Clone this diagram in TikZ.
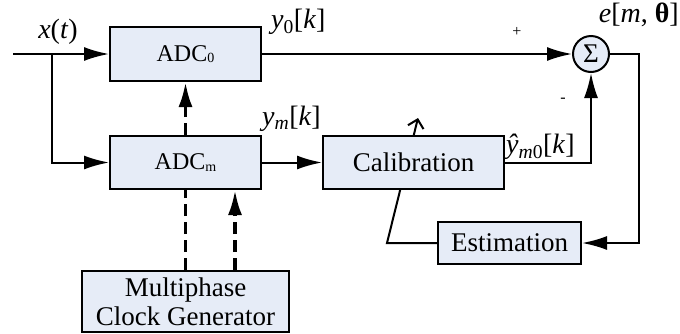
\documentclass[tikz,border=0pt]{standalone}
\usepackage{fontspec}
\setmainfont{Liberation Serif}
\usetikzlibrary{arrows.meta}
\definecolor{boxfill}{RGB}{230,236,247}
\begin{document}
\begin{tikzpicture}[x=1pt,y=-1pt,>={Latex[length=25pt,width=14pt]},
		block/.style={draw,rectangle,fill=boxfill,line width=2pt,inner sep=0pt,font=\fontsize{27}{32}\selectfont},
		adc/.style={block,minimum width=151pt,font=\fontsize{24}{28}\selectfont},
		lbl/.style={inner sep=1pt,font=\fontsize{28}{30}\selectfont},
		sig/.style={line width=2pt},
		clkline/.style={line width=3.5pt,dash pattern=on 12pt off 6pt}]
		\useasboundingbox (0,0) rectangle (680,333);

		\node (adc0)  [adc,minimum height=54pt] at (185.5,54) {ADC\raisebox{-1.5pt}{\fontsize{14}{14}\selectfont 0}};
		\node (adcm)  [adc,minimum height=53pt] at (185.5,162.5) {ADC\raisebox{-1.5pt}{\fontsize{14}{14}\selectfont m}};
		\node (est)   [block,minimum width=143pt,minimum height=42pt] at (509.5,243) {Estimation};
		\node (clock) [block,minimum width=207pt,minimum height=61pt,align=center] at (185.5,301.5) {Multiphase\\[-3pt]Clock Generator};
		\node (sum)   [draw,circle,fill=boxfill,line width=2pt,minimum size=36pt,inner sep=0pt,font=\fontsize{27}{27}\selectfont] at (591,54) {Σ};

		\coordinate (adjA) at (387,243);
		\coordinate (adjB) at (418,118);
		\draw [sig,-{Straight Barb[length=8pt,width=16pt]}] (est.west) -- (adjA) -- (adjB);
		\node (calib) [block,minimum width=181pt,minimum height=53pt] at (413.5,162.5) {Calibration};

		\coordinate (in) at (13,54);
		\coordinate (br) at (52,54);
		\coordinate (fb) at (639,54);
		\draw [->,sig] (in) -- (adc0.west);
		\draw [->,sig] (br) |- (adcm.west);
		\draw [->,sig] (adc0.east) -- (sum.west);
		\draw [->,sig] (adcm.east) -- (calib.west);
		\draw [->,sig] (calib.east) -| (sum.south);
		\draw [->,sig] (sum.east) -- (fb) |- (est.east);

		\draw [clkline] (clock.north) -- (adcm.south);
		\draw [clkline,->] (adcm.north) -- (adc0.south);
		\draw [clkline,->] ([xshift=49.5pt]clock.north) -- ([xshift=49.5pt]adcm.south);

		\node (lx)  [lbl] at (58,32) {\textit{x}(\textit{t})};
		\node (ly0) [lbl,anchor=west] at (270,22) {\textit{y}\textsubscript{0}[\textit{k}]};
		\node (lym) [lbl,anchor=west] at (261,119) {\textit{y}\textsubscript{\textit{m}}[\textit{k}]};
		\node (le)  [lbl,anchor=east] at (680,15) {\textit{e}[\textit{m}, \textbf{θ}]};
		\node (lyh) [lbl,anchor=west] at (505,147) {\textit{ŷ}\textsubscript{\textit{m}0}[\textit{k}]};
		\node (lp)  [font=\fontsize{16}{16}\selectfont] at (517,32) {+};
		\node (lm)  [font=\fontsize{16}{16}\selectfont] at (563,100) {-};
	\end{tikzpicture}
\end{document}
